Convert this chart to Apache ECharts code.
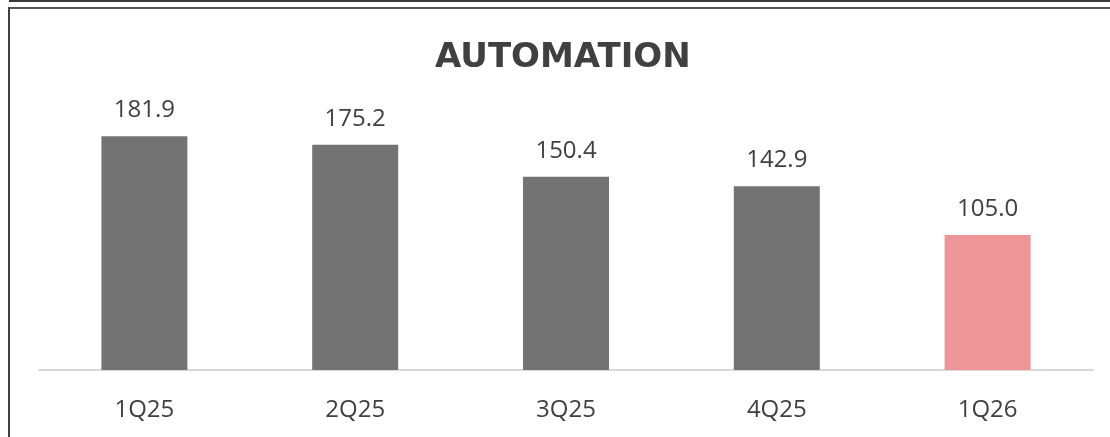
<!DOCTYPE html>
<html>
<head>
<meta charset="utf-8">
<script src="https://cdn.jsdelivr.net/npm/echarts@6/dist/echarts.min.js"></script>
<style>
  html, body { margin: 0; padding: 0; background: #fff; }
  #wrap { position: relative; width: 1110px; height: 437px; overflow: hidden; }
  #topline { position: absolute; left: 9px; top: 0; width: 1101px; height: 2px; background: #3a3a3a; }
  #frame { position: absolute; left: 8px; top: 7px; width: 1110px; height: 440px;
           border-left: 2px solid #404040; border-top: 2px solid #555; }
  #chart { position: absolute; left: 0; top: 0; width: 1110px; height: 437px; }
</style>
</head>
<body>
<div id="wrap">
  <div id="topline"></div>
  <div id="frame"></div>
  <div id="chart"></div>
</div>
<script>
const categories = ['1Q25', '2Q25', '3Q25', '4Q25', '1Q26']
const values = [181.9, 175.2, 150.4, 142.9, 105.0]
const barColors = ['#737373', '#737373', '#737373', '#737373', '#ee9598']

const chart = echarts.init(document.getElementById('chart'))
chart.setOption({
  animation: false,
  title: {
    text: 'AUTOMATION',
    left: 430,
    top: 36,
    textStyle: {
      fontFamily: 'DejaVu Sans',
      fontWeight: 'bold',
      fontSize: 34,
      letterSpacing: 0.3,
      color: '#404040'
    }
  },
  grid: {
    left: 39,
    right: 17,
    top: 113,
    bottom: 67
  },
  xAxis: {
    type: 'category',
    data: categories,
    axisLine: { lineStyle: { color: '#d9d9d9', width: 2 } },
    axisTick: { show: false },
    axisLabel: {
      margin: 28,
      fontFamily: 'Open Sans',
      fontSize: 24,
      color: '#404040'
    }
  },
  yAxis: {
    type: 'value',
    min: 0,
    max: 200,
    show: false
  },
  series: [
    {
      type: 'bar',
      barWidth: 86,
      data: values.map((v, i) => ({ value: v, itemStyle: { color: barColors[i] } })),
      label: {
        show: true,
        position: 'top',
        distance: 14,
        formatter: p => p.value.toFixed(1),
        fontFamily: 'Open Sans',
        fontSize: 24,
        color: '#404040'
      }
    }
  ]
})
</script>
</body>
</html>
